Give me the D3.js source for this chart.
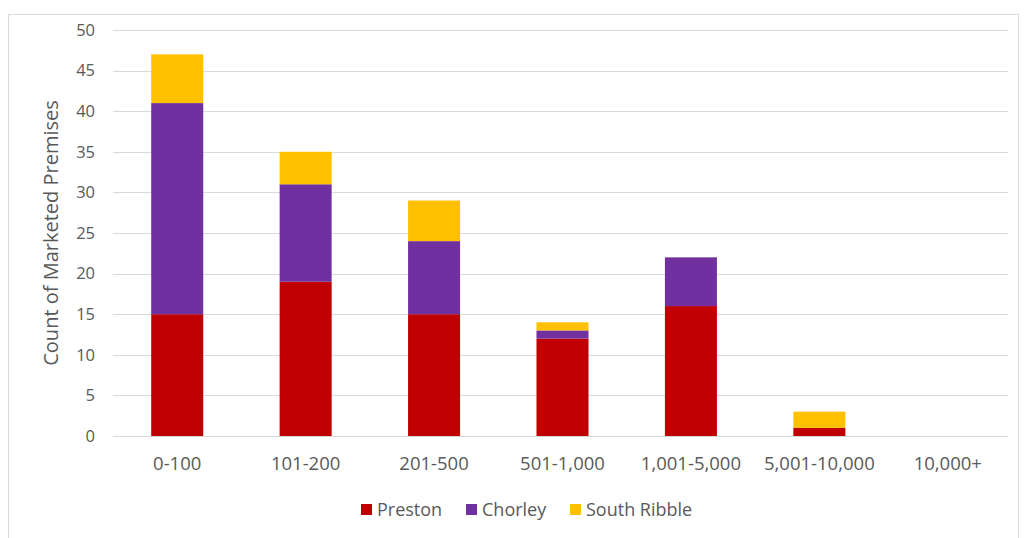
<!DOCTYPE html>
<html>
<head>
<meta charset="utf-8">
<script src="https://cdn.jsdelivr.net/npm/d3@7"></script>
<style>
  body { margin: 0; background: #fff; }
  svg { display: block; font-family: "Open Sans", Lato, sans-serif; }
</style>
</head>
<body>
<svg id="chart" width="1024" height="538"></svg>
<script>
var categories = ['0-100', '101-200', '201-500', '501-1,000', '1,001-5,000', '5,001-10,000', '10,000+'];
var preston = [15, 19, 15, 12, 16, 1, 0];
var chorley = [26, 12, 9, 1, 6, 0, 0];
var southRibble = [6, 4, 5, 1, 0, 2, 0];
var seriesNames = ['Preston', 'Chorley', 'South Ribble'];
var colors = ['#c00000', '#7030a0', '#ffc000'];
var yTicks = [0, 5, 10, 15, 20, 25, 30, 35, 40, 45, 50];

var svg = d3.select('#chart');

// frame round the chart
svg.append('rect')
  .attr('x', 8.5).attr('y', 14.5)
  .attr('width', 1010).attr('height', 540)
  .attr('fill', 'none').attr('stroke', '#d9d9d9');

var x = d3.scaleBand()
  .domain(categories)
  .range([113, 1012])
  .paddingInner(0.595)
  .paddingOuter(0.2975);

var y = d3.scaleLinear().domain([0, 50]).range([436, 30]);

// gridlines
svg.append('g')
  .selectAll('line')
  .data(yTicks)
  .enter().append('line')
    .attr('x1', 113).attr('x2', 1008)
    .attr('y1', function(d) { return Math.round(y(d)) + 0.5; })
    .attr('y2', function(d) { return Math.round(y(d)) + 0.5; })
    .attr('stroke', '#d9d9d9').attr('stroke-width', 1.2);

// y tick labels
svg.append('g')
  .selectAll('text')
  .data(yTicks)
  .enter().append('text')
    .attr('x', 95)
    .attr('y', function(d) { return y(d); })
    .attr('dy', '0.35em')
    .attr('text-anchor', 'end')
    .attr('fill', '#595959')
    .style('font-size', '16.5px')
    .text(function(d) { return d; });

// stacked bars
var rows = categories.map(function(c, i) {
  return { cat: c, Preston: preston[i], Chorley: chorley[i], 'South Ribble': southRibble[i] };
});
var stacked = d3.stack().keys(seriesNames)(rows);

svg.append('g')
  .selectAll('g')
  .data(stacked)
  .enter().append('g')
    .attr('fill', function(d, i) { return colors[i]; })
  .selectAll('rect')
  .data(function(d) { return d; })
  .enter().append('rect')
    .attr('x', function(d) { return x(d.data.cat); })
    .attr('width', x.bandwidth())
    .attr('y', function(d) { return y(d[1]); })
    .attr('height', function(d) { return y(d[0]) - y(d[1]); });

// x labels
svg.append('g')
  .selectAll('text')
  .data(categories)
  .enter().append('text')
    .attr('x', function(d) { return x(d) + x.bandwidth() / 2; })
    .attr('y', 470)
    .attr('text-anchor', 'middle')
    .attr('fill', '#595959')
    .style('font-size', '18.5px')
    .text(function(d) { return d; });

// axis title
svg.append('text')
  .attr('transform', 'translate(58,233) rotate(-90)')
  .attr('text-anchor', 'middle')
  .attr('fill', '#595959')
  .style('font-size', '20px')
  .text('Count of Marketed Premises');

// legend
var legendX = [361, 466, 570];
var legend = svg.append('g')
  .selectAll('g')
  .data(seriesNames)
  .enter().append('g')
    .attr('transform', function(d, i) { return 'translate(' + legendX[i] + ',504)'; });
legend.append('rect')
  .attr('width', 11).attr('height', 11)
  .attr('fill', function(d, i) { return colors[i]; });
legend.append('text')
  .attr('x', 16).attr('y', 6)
  .attr('dy', '0.35em')
  .attr('fill', '#595959')
  .style('font-size', '18px')
  .text(function(d) { return d; });
</script>
</body>
</html>
